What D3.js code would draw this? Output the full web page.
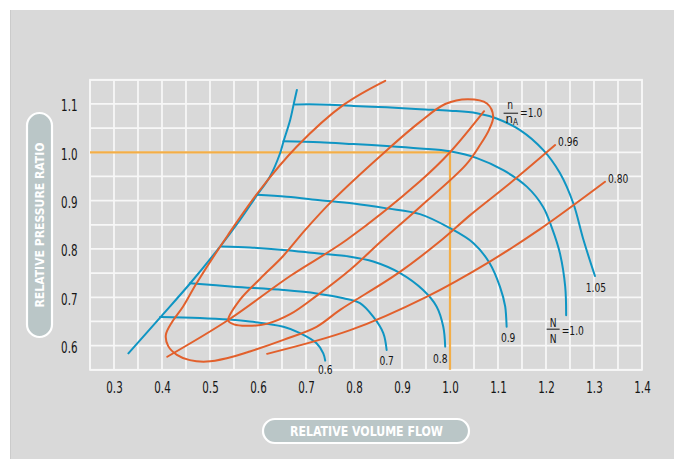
<!DOCTYPE html>
<html><head><meta charset="utf-8">
<script src="https://cdn.jsdelivr.net/npm/d3@7/dist/d3.min.js"></script>
<style>
html,body{margin:0;padding:0;background:#fff;}
svg{display:block;}
text{font-family:"Liberation Sans Narrow","Arial Narrow","DejaVu Sans Condensed",sans-serif;}
</style></head><body>
<svg id="chart" width="682" height="459"></svg>
<script>
// ---- data ----
const xTicks = [0.3,0.4,0.5,0.6,0.7,0.8,0.9,1.0,1.1,1.2,1.3,1.4];
const xTickLabels = ["0.3","0.4","0.5","0.6","0.7","0.8","0.9","1.0","1.1","1.2","1.3","1.4"];
const yTicks = [0.6,0.7,0.8,0.9,1.0,1.1];
const yTickLabels = ["0.6","0.7","0.8","0.9","1.0","1.1"];
const xTitle = "RELATIVE VOLUME FLOW";
const yTitle = "RELATIVE PRESSURE RATIO";

const surgeLine = [[0.330,0.584],[0.396,0.658],[0.458,0.728],[0.521,0.805],[0.5625,0.860],[0.597,0.910],[0.625,0.950],[0.646,0.998],[0.653,1.022],[0.667,1.067],[0.674,1.098],[0.681,1.129]];
const speed060 = [[0.396,0.659],[0.479,0.657],[0.583,0.650],[0.653,0.639],[0.6875,0.626],[0.722,0.605],[0.736,0.584],[0.740,0.569]];
const speed070 = [[0.458,0.729],[0.549,0.722],[0.653,0.715],[0.722,0.708],[0.778,0.698],[0.8125,0.688],[0.840,0.660],[0.861,0.626],[0.868,0.591]];
const speed080 = [[0.524,0.805],[0.583,0.803],[0.653,0.798],[0.722,0.791],[0.792,0.784],[0.840,0.774],[0.896,0.750],[0.944,0.715],[0.972,0.681],[0.986,0.639],[0.990,0.598]];
const speed090 = [[0.597,0.912],[0.660,0.908],[0.729,0.901],[0.799,0.894],[0.868,0.884],[0.9375,0.872],[1.0,0.843],[1.049,0.812],[1.083,0.770],[1.104,0.722],[1.115,0.681],[1.118,0.639]];
const speed100 = [[0.653,1.023],[0.729,1.021],[0.799,1.017],[0.868,1.013],[0.9375,1.008],[1.0,1.002],[1.056,0.988],[1.111,0.963],[1.160,0.929],[1.194,0.887],[1.2125,0.843],[1.229,0.791],[1.240,0.722],[1.242,0.663]];
const speed105 = [[0.677,1.099],[0.729,1.099],[0.799,1.096],[0.868,1.093],[0.9375,1.089],[1.0,1.086],[1.056,1.081],[1.097,1.070],[1.146,1.046],[1.194,1.005],[1.229,0.957],[1.257,0.894],[1.278,0.819],[1.302,0.744]];
const speedLabels = ["0.6","0.7","0.8","0.9","1.0","1.05"];

const effIsland = [[0.538,0.652],[0.5625,0.695],[0.604,0.738],[0.652,0.785],[0.698,0.839],[0.756,0.901],[0.869,1.005],[0.9375,1.063],[0.990,1.100],[1.0375,1.110],[1.077,1.101],[1.090,1.074],[1.081,1.046],[1.0625,1.015],[1.033,0.974],[0.9375,0.887],[0.860,0.819],[0.792,0.757],[0.722,0.703],[0.667,0.665],[0.618,0.645],[0.576,0.641],[0.550,0.644]];
const eff100 = [[0.411,0.577],[0.538,0.653],[0.667,0.744],[0.785,0.819],[0.9375,0.940],[1.0,1.0],[1.071,1.085]];
const eff096 = [[0.865,1.148],[0.778,1.098],[0.681,1.012],[0.604,0.922],[0.5375,0.829],[0.472,0.729],[0.444,0.681],[0.421,0.649],[0.408,0.622],[0.413,0.599],[0.431,0.581],[0.458,0.570],[0.493,0.567],[0.535,0.574],[0.583,0.588],[0.653,0.612],[0.722,0.639],[0.771,0.674],[0.892,0.750],[0.983,0.819],[1.042,0.870],[1.125,0.936],[1.219,1.015]];
const eff080 = [[0.619,0.583],[0.792,0.632],[0.951,0.701],[1.083,0.774],[1.1875,0.841],[1.323,0.939]];
const effLabels = ["=1.0","0.96","0.80"];
const designPoint = [1.0, 1.0];

// ---- drawing ----
const svg = d3.select("#chart");
const BLUE = "#0f95c3", ORANGE = "#e2602c", REF = "#f3ae47", GRID = "#f7f7f7", PILL = "#bac6c7", INK = "#151515";

// squeeze text horizontally to mimic the condensed face
function narrow(sel, k){
  sel.each(function(){
    const w = this.getComputedTextLength();
    d3.select(this).attr("textLength", (w*k).toFixed(1)).attr("lengthAdjust","spacingAndGlyphs");
  });
}

svg.append("rect").attr("x",0).attr("y",0).attr("width",682).attr("height",459).attr("fill","#fff");
svg.append("rect").attr("x",10).attr("y",10).attr("width",664).attr("height",460).attr("fill","#d9d9d9");
svg.append("line").attr("x1",10.5).attr("x2",10.5).attr("y1",10).attr("y2",459).attr("stroke","#cbcbcb").attr("stroke-width",1);

const x = d3.scaleLinear().domain([0.25,1.4]).range([90,642]);
const y = d3.scaleLinear().domain([0.55,1.15]).range([369.8,79.8]);

const grid = svg.append("g");
d3.range(0.25,1.4001,0.05).forEach(v=>{
  grid.append("line").attr("x1",x(v)).attr("x2",x(v)).attr("y1",y(0.55)).attr("y2",y(1.15))
    .attr("stroke",GRID).attr("stroke-width",1.8);
});
d3.range(0.55,1.1501,0.05).forEach(v=>{
  grid.append("line").attr("x1",x(0.25)).attr("x2",x(1.4)).attr("y1",y(v)).attr("y2",y(v))
    .attr("stroke",GRID).attr("stroke-width",1.8);
});
svg.append("rect").attr("x",x(0.25)).attr("y",y(1.15)).attr("width",x(1.4)-x(0.25)).attr("height",y(0.55)-y(1.15))
  .attr("fill","none").attr("stroke",GRID).attr("stroke-width",1.8);

const FONT = '"Liberation Sans Narrow","Arial Narrow","DejaVu Sans Condensed",sans-serif';
// axes (labels only)
const xAxis = d3.axisBottom(x).tickValues(xTicks).tickFormat((d,i)=>xTickLabels[i]).tickSize(0).tickPadding(0);
const gx = svg.append("g").attr("transform",`translate(0,${y(0.55)})`).call(xAxis);
gx.select(".domain").remove();
gx.selectAll("text").attr("y",23.5).attr("dy",null).attr("font-size",15.5).attr("fill",INK).style("font-family",FONT);
narrow(gx.selectAll("text"), 0.74);
const yAxis = d3.axisLeft(y).tickValues(yTicks).tickFormat((d,i)=>yTickLabels[i]).tickSize(0).tickPadding(0);
const gy = svg.append("g").attr("transform",`translate(77.5,0)`).call(yAxis);
gy.select(".domain").remove();
gy.selectAll("text").attr("dy","0.45em").attr("font-size",15.5).attr("fill",INK).style("font-family",FONT);
narrow(gy.selectAll("text"), 0.74);

// design point reference lines
svg.append("line").attr("x1",x(0.25)).attr("x2",x(designPoint[0])).attr("y1",y(designPoint[1])).attr("y2",y(designPoint[1]))
  .attr("stroke",REF).attr("stroke-width",2.2);
svg.append("line").attr("x1",x(designPoint[0])).attr("x2",x(designPoint[0])).attr("y1",y(designPoint[1])).attr("y2",y(0.55))
  .attr("stroke",REF).attr("stroke-width",2.2);

const line = d3.line().x(d=>x(d[0])).y(d=>y(d[1])).curve(d3.curveCatmullRom.alpha(0.5));
const closed = d3.line().x(d=>x(d[0])).y(d=>y(d[1])).curve(d3.curveCatmullRomClosed.alpha(0.5));

const blue = svg.append("g").attr("fill","none").attr("stroke",BLUE).attr("stroke-width",2).attr("stroke-linecap","round");
const speeds = [speed060,speed070,speed080,speed090,speed100,speed105];
blue.append("path").attr("d",line(surgeLine));
speeds.forEach(s=>blue.append("path").attr("d",line(s)));

const orange = svg.append("g").attr("fill","none").attr("stroke",ORANGE).attr("stroke-width",2).attr("stroke-linecap","round");
orange.append("path").attr("d",closed(effIsland));
[eff100,eff096,eff080].forEach(s=>orange.append("path").attr("d",line(s)));

// speed labels
const lab = svg.append("g").attr("fill",INK).attr("font-size",13);
const spOff = [[0,13],[0,15.5],[-5,16.5],[1.5,15.5],null,[1,15.5]];
speeds.forEach((s,i)=>{
  if(i===4) return;
  const e = s[s.length-1];
  lab.append("text").attr("x",x(e[0])+spOff[i][0]).attr("y",y(e[1])+spOff[i][1]).attr("text-anchor","middle").text(speedLabels[i]);
});
// N/N = 1.0
{
  const e = speed100[speed100.length-1];
  const cx = x(e[0]) - 13, cy = y(e[1]) + 15;
  lab.append("text").attr("x",cx).attr("y",cy-3.5).attr("text-anchor","middle").text("N");
  lab.append("line").attr("x1",cx-6.5).attr("x2",cx+6.5).attr("y1",cy-1).attr("y2",cy-1).attr("stroke",INK).attr("stroke-width",1);
  lab.append("text").attr("x",cx).attr("y",cy+13).attr("text-anchor","middle").text("N");
  lab.append("text").attr("x",cx+8.5).attr("y",cy+4.5).text("=" + speedLabels[4]);
}
// efficiency labels
{
  const e = eff100[eff100.length-1];
  const cx = x(e[0]) + 27, cy = y(e[1]) + 2;
  lab.append("text").attr("x",cx-1).attr("y",cy-4).attr("text-anchor","middle").text("n");
  lab.append("line").attr("x1",cx-7.5).attr("x2",cx+7).attr("y1",cy).attr("y2",cy).attr("stroke",INK).attr("stroke-width",1);
  const den = lab.append("text").attr("x",cx-5.5).attr("y",cy+10);
  den.append("tspan").text("n");
  den.append("tspan").attr("font-size",8).attr("dy",2).text("A");
  lab.append("text").attr("x",cx+9).attr("y",cy+3.5).text(effLabels[0]);
  const e96 = eff096[eff096.length-1];
  lab.append("text").attr("x",x(e96[0])+3).attr("y",y(e96[1])+0.5).text(effLabels[1]);
  const e80 = eff080[eff080.length-1];
  lab.append("text").attr("x",x(e80[0])+3).attr("y",y(e80[1])+1).text(effLabels[2]);
}
narrow(lab.selectAll("text").filter(function(){return this.childNodes.length===1 && this.firstChild.nodeType===3;}), 0.78);

// axis title pills
const py = svg.append("g");
py.append("rect").attr("x",27).attr("y",113).attr("width",25).attr("height",224).attr("rx",12.5)
  .attr("fill",PILL).attr("stroke","#fff").attr("stroke-width",2.2);
py.append("text").attr("transform","translate(44,225) rotate(-90)").attr("text-anchor","middle")
  .attr("font-size",13).attr("font-weight","bold").attr("fill","#fff")
  .attr("textLength",165).attr("lengthAdjust","spacingAndGlyphs").text(yTitle);
const px = svg.append("g");
px.append("rect").attr("x",263).attr("y",419).attr("width",206).attr("height",24).attr("rx",12)
  .attr("fill",PILL).attr("stroke","#fff").attr("stroke-width",2.2);
px.append("text").attr("x",366.5).attr("y",436).attr("text-anchor","middle")
  .attr("font-size",13.5).attr("font-weight","bold").attr("fill","#fff")
  .attr("textLength",153).attr("lengthAdjust","spacingAndGlyphs").text(xTitle);
</script>
</body></html>
